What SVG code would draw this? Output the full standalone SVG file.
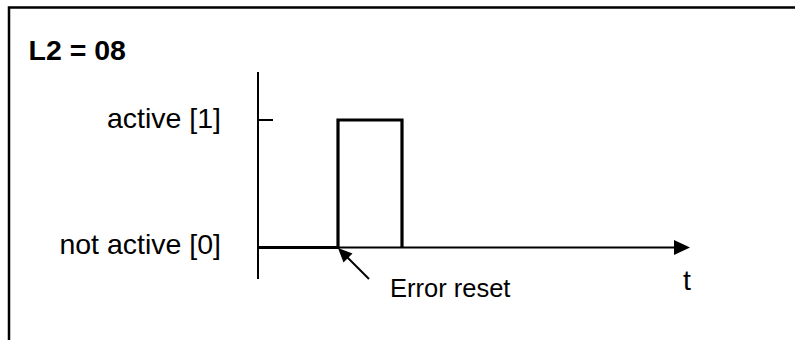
<svg xmlns="http://www.w3.org/2000/svg" width="795" height="340" viewBox="0 0 795 340">
<defs>
<style>
.t{font-family:"Liberation Sans",Arial,sans-serif;font-size:28.5px;fill:#000}
.b{font-weight:bold}
.s{font-size:25.5px}
.ln{stroke:#000;fill:none}
</style>
</defs>
<rect width="795" height="340" fill="#fff"/>
<g id="frame">
<path class="ln" d="M9,340 V7.5 H795" stroke-width="2.5"/>
</g>
<g id="title"><text class="t b" x="28.5" y="60">L2 = 08</text></g>
<g id="labels">
<text class="t" x="221" y="128" text-anchor="end">active [1]</text>
<text class="t" x="221" y="254" text-anchor="end">not active [0]</text>
<text class="t s" x="390" y="297">Error reset</text>
<text class="t" x="687" y="290" text-anchor="middle">t</text>
</g>
<g id="connectors">
<path class="ln" d="M258,72 V279" stroke-width="2"/>
<path class="ln" d="M258,120 H273" stroke-width="2"/>
<path class="ln" d="M338,247.5 H675" stroke-width="2"/>
<path d="M674,240 L690,247.5 L674,255 z" fill="#000"/>
<path class="ln" d="M258,247.5 H338 V120 H402 V247.5" stroke-width="3.2" stroke-linejoin="miter"/>
<path class="ln" d="M369,279 L346,256" stroke-width="2"/>
<path d="M338,248 L352.5,253.5 L343.5,262.5 z" fill="#000"/>
</g>
</svg>
